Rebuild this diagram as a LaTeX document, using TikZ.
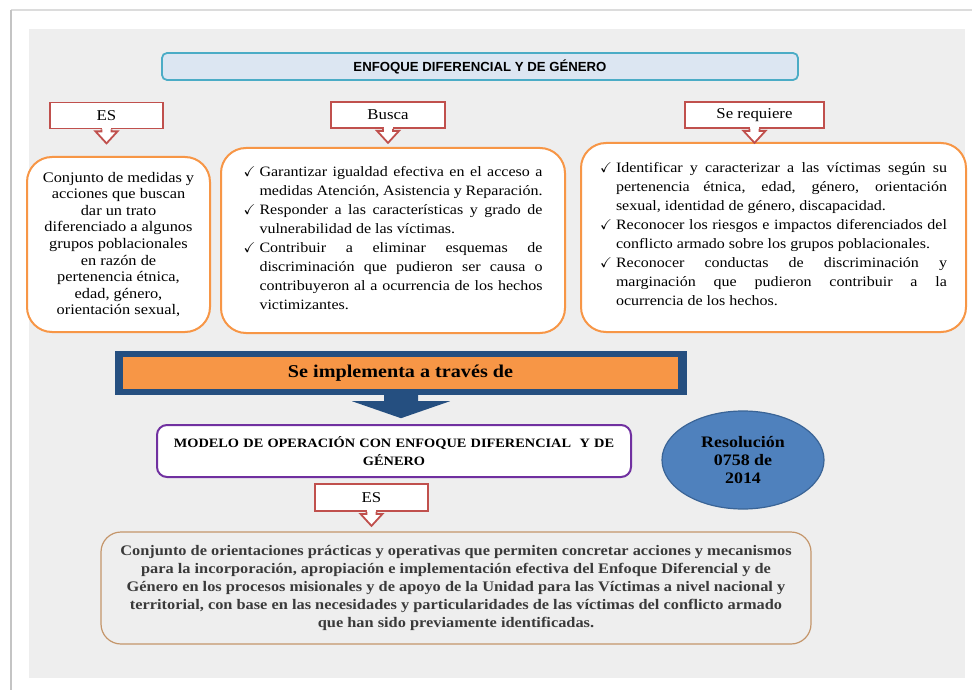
\documentclass[tikz,border=0pt]{standalone}
\usepackage{fontspec}
\setmainfont{Liberation Serif}[FakeStretch=1.12]
\newfontfamily\headfont{Liberation Sans}
\usepackage{amssymb}
\usetikzlibrary{calc,shapes.geometric}

\definecolor{pagegray}{HTML}{EEEEEE}
\definecolor{edgegray}{HTML}{C4C4C4}
\definecolor{tagred}{HTML}{C0504D}
\definecolor{boxorange}{HTML}{F79646}
\definecolor{titlefill}{HTML}{DCE6F2}
\definecolor{titleedge}{HTML}{4BACC6}
\definecolor{barblue}{HTML}{254F80}
\definecolor{modpurple}{HTML}{7030A0}
\definecolor{resblue}{HTML}{4F81BD}
\definecolor{resedge}{HTML}{3A6496}
\definecolor{baseedge}{HTML}{C4956A}
\definecolor{basetext}{HTML}{3A3A3A}

% check list item
\newcommand{\chkitem}{\par\noindent\hangindent=16pt\hangafter=1\makebox[16pt][l]{$\checkmark$}\ignorespaces}
% extra room under a list
\newcommand{\listgap}[1]{\par\nointerlineskip\vbox to #1{}}

% arrow tip under a label box
\newcommand{\downtip}[1]{%
  \fill[white] ($(#1.south)+(-4.5,-1.5)$) rectangle ($(#1.south)+(4.5,2.5)$);
  \filldraw[tipline]
    ($(#1.south)+(-5,0)$) -- ($(#1.south)+(-5,2)$) -- ($(#1.south)+(-11,2)$)
    -- ($(#1.south)+(0,14)$) -- ($(#1.south)+(11,2)$) -- ($(#1.south)+(5,2)$)
    -- ($(#1.south)+(5,0)$);
}

\tikzset{
  labelbox/.style={draw=tagred, line width=1.8pt, fill=white, minimum height=26pt,
    inner sep=0pt, font=\fontsize{15}{17}\selectfont},
  tipline/.style={draw=tagred, fill=white, line width=1.8pt, line join=miter},
  infobox/.style={draw=boxorange, line width=2pt, fill=white, rounded corners=25pt,
    inner sep=0pt, font=\fontsize{14.3}{19}\selectfont},
}

\begin{document}
\begin{tikzpicture}[x=1pt,y=-1pt]

\useasboundingbox (0,0) rectangle (972,690);

% page and background
\fill[white] (0,0) rectangle (972,690);
\draw[edgegray!60, line width=1.5pt] (11,10) -- (972,10);
\draw[edgegray, line width=2.5pt] (11,10) -- (11,690);
\fill[pagegray] (29,29) rectangle (965,678);

%-------------------------------------------------
% Title
%-------------------------------------------------

\node[draw=titleedge, fill=titlefill, line width=1.8pt, rounded corners=5pt,
  minimum width=636pt, minimum height=27pt, inner sep=0pt,
  font=\headfont\bfseries\fontsize{13.2}{15}\selectfont]
  (title) at (480,66.5) {ENFOQUE DIFERENCIAL Y DE GÉNERO};

%-------------------------------------------------
% Label boxes
%-------------------------------------------------

\node[labelbox, minimum width=113pt] (es) at (106.5,115.5) {ES};
\node[labelbox, minimum width=114pt] (busca) at (388,115) {Busca};
\node[labelbox, minimum width=139pt] (requiere) at (754.5,115) {Se requiere};

%-------------------------------------------------
% Orange boxes
%-------------------------------------------------

\node[infobox, minimum width=183pt, minimum height=175pt, align=center,
  font=\fontsize{14.6}{16.6}\selectfont]
  (esbox) at (118.5,244.5) {Conjunto de medidas y\\ acciones que buscan\\ dar un trato\\
  diferenciado a algunos\\ grupos poblacionales\\ en razón de\\ pertenencia étnica,\\
  edad, género,\\ orientación sexual,};

\node[infobox, minimum width=344pt, minimum height=185pt, text width=299pt, align=justify]
  (buscabox) at (393,240.5) {\hyphenpenalty=10000
  \chkitem Garantizar igualdad efectiva en el acceso a\linebreak medidas Atención, Asistencia y Reparación.
  \chkitem Responder a las características y grado de\linebreak vulnerabilidad de las víctimas.
  \chkitem Contribuir a eliminar esquemas de\linebreak discriminación que pudieron ser causa o\linebreak
  contribuyeron al a ocurrencia de los hechos\linebreak victimizantes.\listgap{13pt}};

\node[infobox, minimum width=385pt, minimum height=189pt, text width=347pt, align=justify]
  (requierebox) at (773.5,237.5) {\hyphenpenalty=10000
  \chkitem Identificar y caracterizar a las víctimas según su\linebreak pertenencia étnica, edad, género, orientación\linebreak
  sexual, identidad de género, discapacidad.
  \chkitem Reconocer los riesgos e impactos diferenciados del\linebreak conflicto armado sobre los grupos poblacionales.
  \chkitem Reconocer conductas de discriminación y\linebreak marginación que pudieron contribuir a la\linebreak
  ocurrencia de los hechos.\listgap{16pt}};

\downtip{es}
\downtip{busca}
\downtip{requiere}

%-------------------------------------------------
% Implementation bar and arrow
%-------------------------------------------------

\node[fill=barblue, minimum width=572pt, minimum height=44pt, inner sep=0pt]
  (bar) at (401,373) {};
\node[fill=boxorange, minimum width=555pt, minimum height=32pt, inner sep=0pt,
  font=\bfseries\fontsize{18}{20}\selectfont]
  (bartext) at (400.5,373) {Se implementa a través de};

\fill[barblue] ($(bar.south)+(-17,0)$) -- ($(bar.south)+(17,0)$) -- ($(bar.south)+(17,6)$)
  -- ($(bar.south)+(49,6)$) -- ($(bar.south)+(0,23)$) -- ($(bar.south)+(-49,6)$)
  -- ($(bar.south)+(-17,6)$) -- cycle;

%-------------------------------------------------
% Model box, resolution, ES
%-------------------------------------------------

\node[draw=modpurple, fill=white, line width=2pt, rounded corners=10pt,
  minimum width=474pt, minimum height=52pt, text width=470pt, inner sep=0pt, align=center,
  font=\bfseries\fontsize{12.8}{18}\selectfont]
  (modelo) at (394,451) {MODELO DE OPERACIÓN CON ENFOQUE DIFERENCIAL\ \ Y DE\\ GÉNERO};

\node[ellipse, draw=resedge, fill=resblue, line width=1.2pt, minimum width=162pt,
  minimum height=98pt, inner sep=0pt, align=center,
  font=\bfseries\fontsize{16}{18}\selectfont]
  (resol) at (743,460) {Resolución\\ 0758 de\\ 2014};

\node[labelbox, minimum width=113pt, minimum height=27pt] (es2) at (371.5,497.5) {ES};
\downtip{es2}

%-------------------------------------------------
% Bottom box
%-------------------------------------------------

\node[draw=baseedge, line width=1.2pt, rounded corners=20pt, minimum width=710pt,
  minimum height=112pt, inner sep=0pt, align=center, text=basetext,
  font=\bfseries\fontsize{14.6}{18}\selectfont]
  (definicion) at (456,588) {Conjunto de orientaciones prácticas y operativas que permiten concretar acciones y mecanismos\\
  para la incorporación, apropiación e implementación efectiva del Enfoque Diferencial y de\\
  Género en los procesos misionales y de apoyo de la Unidad para las Víctimas a nivel nacional y\\
  territorial, con base en las necesidades y particularidades de las víctimas del conflicto armado\\
  que han sido previamente identificadas.};

\end{tikzpicture}
\end{document}
